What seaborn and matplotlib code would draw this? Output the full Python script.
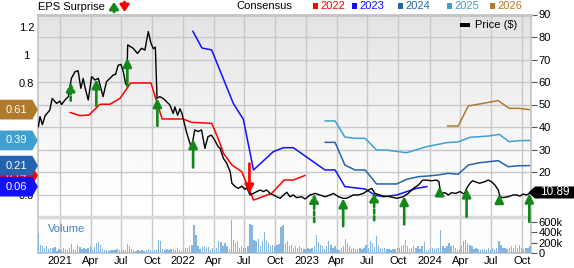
import numpy as np
import pandas as pd
import matplotlib
matplotlib.use("Agg")
import matplotlib.pyplot as plt
import matplotlib.dates as mdates
from matplotlib.path import Path
from matplotlib.patches import Rectangle
import seaborn as sns

# ---------------- data ----------------
price_dates = [
    "2020-10-28", "2020-11-02", "2020-11-09", "2020-11-17", "2020-12-01", "2020-12-08", "2020-12-21", "2020-12-31",
    "2021-01-05", "2021-01-15", "2021-01-25", "2021-02-03", "2021-02-14", "2021-02-23", "2021-03-03", "2021-03-10",
    "2021-03-15", "2021-03-25", "2021-04-04", "2021-04-14", "2021-04-24", "2021-05-03", "2021-05-08", "2021-05-18",
    "2021-05-28", "2021-06-07", "2021-06-14", "2021-06-22", "2021-06-30", "2021-07-07", "2021-07-14", "2021-07-17",
    "2021-07-20", "2021-08-05", "2021-08-18", "2021-08-30", "2021-09-09", "2021-09-19", "2021-09-27", "2021-10-04",
    "2021-10-10", "2021-10-15", "2021-10-23", "2021-11-02", "2021-11-12", "2021-11-22", "2021-12-02", "2021-12-07",
    "2021-12-15", "2021-12-22", "2021-12-28", "2022-01-10", "2022-01-25", "2022-02-04", "2022-02-14", "2022-02-24",
    "2022-03-06", "2022-03-15", "2022-03-25", "2022-04-04", "2022-04-14", "2022-04-20", "2022-04-30", "2022-05-10",
    "2022-05-20", "2022-05-25", "2022-06-04", "2022-06-13", "2022-06-23", "2022-07-03", "2022-07-08", "2022-07-18",
    "2022-07-28", "2022-08-07", "2022-08-17", "2022-08-26", "2022-09-05", "2022-09-15", "2022-09-25", "2022-10-05",
    "2022-10-15", "2022-10-25", "2022-11-04", "2022-11-13", "2022-11-23", "2022-12-03", "2022-12-18", "2022-12-28",
    "2023-01-12", "2023-01-27", "2023-02-10", "2023-02-25", "2023-03-12", "2023-03-22", "2023-04-06", "2023-04-20",
    "2023-04-30", "2023-05-10", "2023-05-20", "2023-06-04", "2023-06-19", "2023-07-04", "2023-07-14", "2023-07-23",
    "2023-08-07", "2023-08-17", "2023-09-06", "2023-09-26", "2023-10-15", "2023-10-30", "2023-11-14", "2023-11-29",
    "2023-12-12", "2023-12-23", "2024-01-07", "2024-01-22", "2024-01-29", "2024-02-03", "2024-02-16", "2024-02-26",
    "2024-03-06", "2024-03-19", "2024-03-31", "2024-04-13", "2024-04-20", "2024-04-30", "2024-05-08", "2024-05-20",
    "2024-05-29", "2024-06-13", "2024-06-23", "2024-07-03", "2024-07-13", "2024-07-23", "2024-07-28", "2024-08-06",
    "2024-08-21", "2024-09-05", "2024-09-15", "2024-09-25", "2024-10-05", "2024-10-15", "2024-10-24", "2024-10-27",
]
price_vals = [
    40.1, 44.6, 41.0, 45.0, 47.5, 52.7, 50.5, 51.5,
    50.0, 52.0, 53.5, 61.6, 64.6, 65.0, 57.2, 61.6,
    57.9, 52.0, 62.4, 60.9, 61.6, 56.4, 53.5, 60.1,
    61.6, 63.1, 63.4, 67.5, 67.8, 64.6, 59.0, 59.0,
    76.5, 75.0, 72.7, 75.0, 74.2, 82.4, 77.2, 74.8,
    75.5, 52.7, 53.5, 52.7, 51.3, 49.8, 46.0, 48.9,
    45.2, 48.1, 46.0, 37.9, 30.5, 38.7, 38.0, 38.7,
    30.5, 35.7, 36.4, 34.2, 31.3, 30.5, 26.0, 23.8,
    20.1, 15.0, 13.5, 12.7, 13.7, 12.3, 13.0, 9.8,
    10.5, 11.3, 12.0, 11.3, 12.0, 10.5, 9.8, 9.0,
    8.3, 9.8, 11.0, 9.0, 9.8, 8.6, 9.0, 8.0,
    9.8, 10.5, 9.8, 9.0, 9.8, 10.5, 9.0, 8.3,
    8.3, 9.0, 9.8, 9.8, 10.5, 12.0, 12.7, 10.5,
    9.8, 9.3, 9.0, 8.3, 9.0, 10.5, 12.7, 14.2,
    16.4, 16.4, 16.1, 16.4, 15.7, 10.5, 10.8, 9.8,
    10.8, 10.5, 11.3, 10.2, 12.7, 15.0, 16.1, 15.4,
    15.0, 15.7, 16.4, 15.7, 14.2, 12.0, 9.0, 8.6,
    9.0, 9.8, 9.8, 9.3, 10.2, 9.8, 10.5, 10.89,
]

cons_2022_dates = ["2021-01-30", "2021-02-28", "2021-03-27", "2021-04-29", "2021-05-28", "2021-06-27", "2021-07-29",
                   "2021-09-27", "2021-10-30", "2021-12-31", "2022-01-25", "2022-03-26", "2022-04-14", "2022-04-30",
                   "2022-05-25", "2022-06-23", "2022-07-28", "2022-09-20", "2022-10-27", "2022-11-23", "2022-12-28"]
cons_2022_vals = [0.59, 0.567, 0.571, 0.648, 0.648, 0.69, 0.80, 0.80, 0.543, 0.543, 0.519, 0.512, 0.405, 0.298,
                  0.214, 0.167, -0.036, 0.012, 0.107, 0.107, 0.14]
cons_2023_dates = ["2022-01-29", "2022-02-25", "2022-03-26", "2022-05-29", "2022-06-28", "2022-07-28", "2022-09-25",
                   "2022-10-25", "2022-11-23", "2023-02-25", "2023-03-27", "2023-04-25", "2023-06-24", "2023-07-23",
                   "2023-08-17", "2023-09-26", "2023-10-25", "2023-11-24", "2023-12-25"]
cons_2023_vals = [1.17, 1.05, 1.036, 0.655, 0.54, 0.179, 0.31, 0.338, 0.338, 0.179, 0.179, 0.06, 0.043, 0.0,
                  -0.012, 0.0, 0.024, 0.048, 0.06]
cons_2024_dates = ["2023-02-25", "2023-03-27", "2023-04-25", "2023-05-25", "2023-06-24", "2023-07-28", "2023-09-26",
                   "2023-10-25", "2023-11-29", "2023-12-28", "2024-01-26", "2024-02-26", "2024-03-26", "2024-04-25",
                   "2024-05-29", "2024-07-23", "2024-08-21", "2024-09-20", "2024-10-24"]
cons_2024_vals = [0.376, 0.376, 0.214, 0.179, 0.179, 0.079, 0.079, 0.112, 0.131, 0.136, 0.143, 0.155, 0.148, 0.214,
                  0.231, 0.245, 0.202, 0.209, 0.21]
cons_2025_dates = ["2023-02-25", "2023-03-27", "2023-04-25", "2023-05-25", "2023-06-24", "2023-07-28", "2023-08-27",
                   "2023-10-25", "2023-12-23", "2024-02-21", "2024-03-26", "2024-04-30", "2024-06-23", "2024-07-26",
                   "2024-08-24", "2024-09-23", "2024-10-24"]
cons_2025_vals = [0.529, 0.529, 0.414, 0.405, 0.405, 0.321, 0.321, 0.302, 0.345, 0.374, 0.379, 0.412, 0.421, 0.433,
                  0.381, 0.388, 0.39]
cons_2026_dates = ["2024-02-23", "2024-03-26", "2024-04-25", "2024-05-24", "2024-07-23", "2024-08-24", "2024-09-20",
                   "2024-10-24"]
cons_2026_vals = [0.493, 0.493, 0.636, 0.648, 0.674, 0.619, 0.619, 0.61]

years = ["2022", "2023", "2024", "2025", "2026"]

surprise_dates = ["2021-02-01", "2021-04-18", "2021-07-19", "2021-10-16", "2022-01-30", "2022-07-16", "2023-01-24",
                  "2023-04-20", "2023-07-21", "2023-10-18", "2024-01-31", "2024-04-20", "2024-07-26", "2024-10-23"]
surprise_dir = [1, 1, 1, 1, 1, -1, 1, 1, 1, 1, 1, 1, 1, 1]
surprise_size = [8.1, 11.8, 12.6, 12.3, 12.6, 13.3, 12.6, 12.4, 12.4, 12.6, 3.7, 12.6, 3.7, 12.6]
surprise_dashed = [1, 0, 0, 0, 0, 0, 1, 0, 1, 0, 0, 0, 0, 0]

volume_k = [
    369, 162, 142, 97, 129, 84, 97, 97, 110, 32, 84, 65, 97, 84, 65, 97, 181, 84, 65, 162,
    116, 84, 97, 84, 97, 129, 65, 110, 194, 213, 162, 84, 65, 65, 45, 52, 65, 65, 78, 52,
    65, 52, 65, 175, 129, 78, 52, 45, 52, 45, 52, 32, 65, 84, 65, 45, 65, 52, 259, 226,
    78, 52, 84, 65, 78, 84, 65, 97, 52, 45, 84, 97, 97, 129, 162, 550, 356, 142, 84, 110,
    129, 97, 110, 65, 97, 65, 97, 226, 207, 129, 194, 129, 84, 634, 259, 194, 226, 97, 129, 97,
    97, 142, 569, 537, 259, 226, 272, 142, 226, 408, 226, 194, 129, 162, 129, 162, 175, 498, 537, 194,
    226, 129, 162, 97, 129, 97,
    129, 97, 84, 84, 97, 78, 97, 142, 356, 207, 162, 129, 78, 129, 226, 162, 97, 129, 78, 52,
    97, 129, 272, 194, 129, 84, 97, 84, 84, 97, 84, 97, 162, 97, 226, 194, 110, 336, 129, 97,
    84, 97, 78, 84, 65, 84, 84, 97, 97, 129, 162, 259, 129, 84, 97, 142, 97, 129, 78, 142,
    207, 45, 65, 97, 97, 84, 97, 97, 453, 142, 97, 129, 194, 129, 162, 97, 65, 84, 129, 226,
    259, 194, 149, 129, 84, 97, 84, 65, 78, 78, 65, 97, 65, 97, 84, 97, 239, 162, 97, 97,
    84, 97, 129, 97, 162, 97, 162, 97, 84, 97, 97, 129,
]
volume_start, volume_end = "2020-10-28", "2024-10-25"

x_tick_dates = ["2021-01-01", "2021-04-01", "2021-07-01", "2021-10-01", "2022-01-01", "2022-04-01", "2022-07-01",
                "2022-10-01", "2023-01-01", "2023-04-01", "2023-07-01", "2023-10-01", "2024-01-01", "2024-04-01",
                "2024-07-01", "2024-10-01"]
x_tick_labels = ["2021", "Apr", "Jul", "Oct", "2022", "Apr", "Jul", "Oct", "2023", "Apr", "Jul", "Oct",
                 "2024", "Apr", "Jul", "Oct"]
price_ticks = [10, 20, 30, 40, 50, 60, 70, 80, 90]
price_tick_labels = ["", "20", "30", "40", "50", "60", "70", "80", "90"]   # "10" sits under the price tag
eps_ticks = [0.0, 0.2, 0.4, 0.6, 0.8, 1.0, 1.2]
eps_tick_labels = ["0.0", "", "", "", "0.8", "1", "1.2"]                   # 0.2-0.6 sit under the value tags
vol_ticks = [0, 200, 400, 600]
vol_tick_labels = ["0", "200k", "400k", "600k"]

# ---------------- style ----------------
sns.set_theme(style="white")
plt.rcParams["font.family"] = ["Liberation Sans", "DejaVu Sans"]

palette = {"2022": "#ff0000", "2023": "#1010ff", "2024": "#2463b0", "2025": "#3fa0d0", "2026": "#b07a2c"}
green = "#13871a"
red = "#ff0000"

W, H = 574, 268
fig = plt.figure(figsize=(W / 100, H / 100), dpi=100)
L, R, T, B = 38, 531, 14.5, 253
rect = [L / W, 1 - B / H, (R - L) / W, (B - T) / H]

# background gradient
bg = fig.add_axes(rect, zorder=-1)
n = 500
rows = np.linspace(1, 0, n)
sep_frac = (B - 217) / (B - T)
white_frac = (B - 195) / (B - T)
t = np.clip((rows - white_frac) / (1 - white_frac), 0, 1)
grad = (1.0 - 0.11 * t)
grad[rows < sep_frac] = 0.99
bg.imshow(grad[:, None], aspect="auto", cmap="gray", vmin=0, vmax=1, extent=[0, 1, 0, 1],
          interpolation="bilinear")
bg.axis("off")

xmin, xmax = pd.Timestamp("2020-10-27"), pd.Timestamp("2024-10-28")

ax = fig.add_axes(rect)
ax.set_facecolor("none")
ax.xaxis_date()
ax.set_xlim(xmin, xmax)
ax.set_ylim(-16, 90)

axv = ax.twinx()
axe = ax.twinx()
axp = ax.twinx()
for a in (axv, axe, axp):
    for s in a.spines.values():
        s.set_visible(False)

# base axis: grid + price ticks + x ticks
ax.set_xticks(mdates.date2num(pd.to_datetime(x_tick_dates)))
ax.set_xticklabels(x_tick_labels)
ax.yaxis.tick_right()
ax.set_yticks(price_ticks)
ax.set_yticklabels(price_tick_labels)
ax.grid(True, color="#c8c8c8", lw=1)
ax.tick_params(axis="x", length=0, pad=2.5, labelsize=8, labelcolor="black")
ax.tick_params(axis="y", right=True, left=False, length=4, width=0.8, color="#555555", pad=1.5,
               labelsize=8, labelcolor="black")
ax.axhline(0, color="#d9d9d9", lw=2.5, zorder=1.5)
for s in ax.spines.values():
    s.set_color("#c4c4c4")
    s.set_linewidth(1.2)
ax.spines["top"].set_linewidth(2)

# volume
axv.set_ylim(0, 4631)
vol_dates = pd.date_range(volume_start, volume_end, periods=len(volume_k))
axv.bar(vol_dates, volume_k, width=4.0, color="#86b5e0", edgecolor="none")
axv.set_yticks(vol_ticks)
axv.set_yticklabels(vol_tick_labels)
axv.tick_params(axis="y", right=True, length=4, width=0.8, color="#555555", pad=1.5, labelsize=8,
                labelcolor="black")

# consensus lines (EPS axis, left)
cons = {
    "2022": (cons_2022_dates, cons_2022_vals),
    "2023": (cons_2023_dates, cons_2023_vals),
    "2024": (cons_2024_dates, cons_2024_vals),
    "2025": (cons_2025_dates, cons_2025_vals),
    "2026": (cons_2026_dates, cons_2026_vals),
}
df_c = pd.concat([pd.DataFrame({"date": pd.to_datetime(d), "eps": v, "year": y}) for y, (d, v) in cons.items()],
                 ignore_index=True)
sns.lineplot(data=df_c, x="date", y="eps", hue="year", palette=palette, ax=axe, legend=False,
             lw=1.1, estimator=None, sort=False)
axe.set_ylim(-0.414, 1.289)
axe.yaxis.tick_left()
axe.set_yticks(eps_ticks)
axe.set_yticklabels(eps_tick_labels)
axe.tick_params(axis="y", left=True, right=False, length=0, pad=8.3, labelsize=8, labelcolor="black")
for lab in axe.get_yticklabels():
    lab.set_ha("center")
axe.set_xlabel("")
axe.set_ylabel("")

# price line
pdates = pd.to_datetime(price_dates)
sns.lineplot(x=pdates, y=price_vals, ax=axp, color="black", lw=1.0)
axp.set_ylim(-16, 90)
axp.set_yticks([])
axp.set_xlabel("")
axp.set_ylabel("")

# surprise arrows
pnum = mdates.date2num(pdates)
for d, sgn, size, dashed in zip(surprise_dates, surprise_dir, surprise_size, surprise_dashed):
    xd = mdates.date2num(pd.Timestamp(d))
    tip = float(np.interp(xd, pnum, price_vals))
    tail = tip - sgn * size
    col = green if sgn > 0 else red
    axp.annotate("", xy=(xd, tip), xytext=(xd, tail), annotation_clip=False,
                 arrowprops=dict(arrowstyle="-|>,head_length=0.5,head_width=0.25", mutation_scale=10,
                                 color=col, lw=1.9, linestyle=(0, (1.5, 1.0)) if dashed else "-",
                                 shrinkA=0, shrinkB=0))

for a in (ax, axv, axe, axp):
    a.set_xlim(xmin, xmax)
ax.yaxis.tick_right()


# value labels
def box_right(x0, y0, width, height, mutation_size):
    px, py = 0.5 * mutation_size, 0.44 * mutation_size
    x0 -= px
    x1 = x0 + width + 2 * px
    y0 -= py
    y1 = y0 + height + 2 * py
    ym = 0.5 * (y0 + y1)
    tip = 0.5 * mutation_size
    return Path([(x0, y0), (x1, y0), (x1 + tip, ym), (x1, y1), (x0, y1), (x0, y0)], closed=True)


def box_left(x0, y0, width, height, mutation_size):
    px, py = 0.45 * mutation_size, 0.0
    x0 -= px
    x1 = x0 + width + 2 * px + 10
    y0 -= py
    y1 = y0 + height + 2 * py
    ym = 0.5 * (y0 + y1)
    tip = 0.55 * mutation_size
    return Path([(x0, y0), (x1, y0), (x1, y1), (x0, y1), (x0 - tip, ym), (x0, y0)], closed=True)


for y in ["2026", "2025", "2022", "2024", "2023"]:
    v = cons[y][1][-1]
    axe.annotate(f"{v:.2f}", xy=(16, v), xycoords=("figure pixels", "data"), ha="center", va="center",
                 color="white", fontsize=8, annotation_clip=False,
                 bbox=dict(boxstyle=box_right, fc=palette[y], ec="none"))

last_price = price_vals[-1]
axp.annotate(f"{last_price:.2f}", xy=(555, last_price), xycoords=("figure pixels", "data"), ha="center",
             va="center", color="white", fontsize=8.5, annotation_clip=False,
             bbox=dict(boxstyle=box_left, fc="black", ec="none"))

# header texts / legends
fig.text(38 / W, 1 - 7.5 / H, "EPS Surprise", fontsize=8, ha="left", va="center", color="black")
fig.add_artist(plt.Annotation("", xy=(114, H - 2), xytext=(114, H - 12), xycoords="figure pixels",
                              arrowprops=dict(arrowstyle="-|>,head_length=0.45,head_width=0.3",
                                              mutation_scale=9, color=green, lw=2, shrinkA=0, shrinkB=0)))
fig.add_artist(plt.Annotation("", xy=(124.5, H - 12), xytext=(124.5, H - 2), xycoords="figure pixels",
                              arrowprops=dict(arrowstyle="-|>,head_length=0.45,head_width=0.3",
                                              mutation_scale=9, color=red, lw=2, shrinkA=0, shrinkB=0)))

fig.text(292 / W, 1 - 6 / H, "Consensus", fontsize=8, ha="right", va="center", color="black")
leg_x = [313, 352, 398, 447, 490]
for y, lx in zip(years, leg_x):
    fig.add_artist(Rectangle((lx / W, 1 - 9 / H), 5 / W, 6 / H, transform=fig.transFigure,
                             color=palette[y], lw=0))
    fig.text((lx + 7) / W, 1 - 6 / H, y, fontsize=8, ha="left", va="center", color=palette[y])

fig.add_artist(Rectangle((460 / W, 1 - 27 / H), 10 / W, 4 / H, transform=fig.transFigure, color="black", lw=0))
fig.text(475 / W, 1 - 25 / H, "Price ($)", fontsize=8, ha="left", va="center", color="black")
fig.text(48 / W, 1 - 229 / H, "Volume", fontsize=8, ha="left", va="center", color="#3b86c8")

fig.savefig("out.png", dpi=100)
